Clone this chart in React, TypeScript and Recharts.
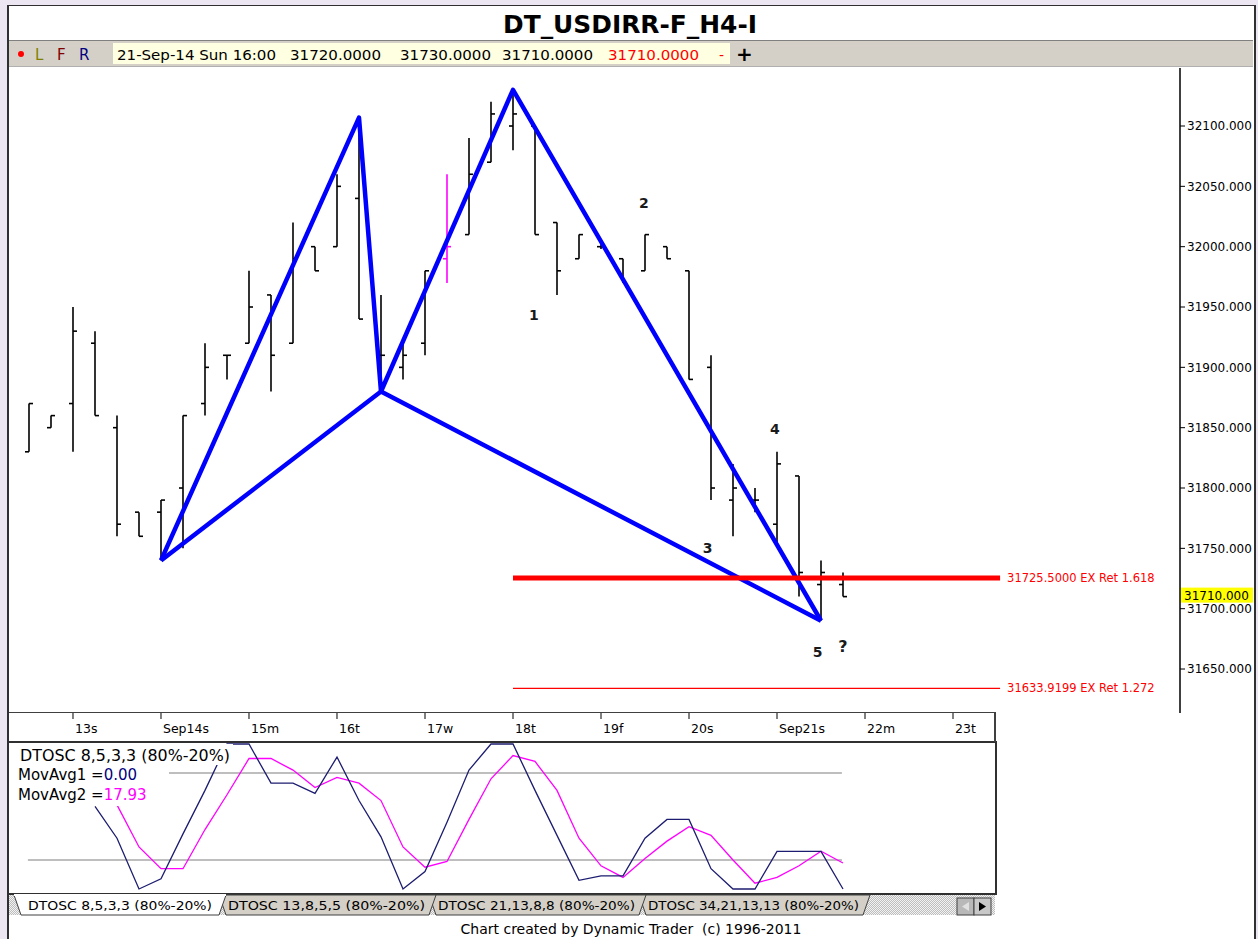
import React from 'react';
import { ComposedChart, Bar, Line, XAxis, YAxis, ReferenceLine, ReferenceDot } from 'recharts';

const FONT = "Tahoma, 'DejaVu Sans', Verdana, sans-serif";

// OHLC of the 4H bars (38 bars)
const opens = [31830, 31850, 31870, 31920, 31850, 31780, 31780, 31800, 31870, 31910, 31920, 31960, 31920, 32000, 32000, 32040, 31910, 31900, 31920, 31990, 32010, 32070, 32100, 32100, 32020, 31990, 32000, 31990, 31980, 32000, 31980, 31900, 31790, 31790, 31770, 31810, 31720, 31720];
const highs = [31870, 31860, 31950, 31930, 31860, 31780, 31790, 31860, 31920, 31910, 31980, 31960, 32020, 32000, 32060, 32105, 31960, 31920, 31980, 32060, 32090, 32120, 32130, 32100, 32020, 32010, 32002, 31990, 32010, 32000, 31980, 31910, 31820, 31800, 31830, 31810, 31740, 31730];
const lows = [31830, 31850, 31830, 31860, 31760, 31760, 31740, 31750, 31860, 31890, 31920, 31880, 31920, 31980, 32000, 31940, 31880, 31890, 31910, 31970, 32010, 32070, 32080, 32010, 31960, 31990, 31998, 31970, 31980, 31990, 31890, 31790, 31760, 31780, 31755, 31710, 31690, 31710];
const closes = [31870, 31860, 31930, 31860, 31770, 31760, 31790, 31860, 31900, 31910, 31950, 31910, 31990, 31980, 32050, 31940, 31910, 31910, 31980, 32000, 32060, 32110, 32110, 32010, 31980, 32010, 32000, 31970, 32010, 31990, 31890, 31800, 31800, 31790, 31820, 31730, 31730, 31710];
const highlightBar = 19;

// oscillator values per bar
const dtoscLine = [null, null, null, 57, 35, 0, 7, 38, 68, 100, 100, 73, 73, 66, 91, 61, 36, 0, 12, 46, 82, 100, 100, 68, 37, 6, 9, 9, 35, 48, 48, 14, 0, 0, 26, 26, 26, 0];
const movAvgLine = [null, null, null, null, 58, 29, 14, 14, 41, 65, 90, 90, 82, 70, 77, 73, 61, 29, 15, 19, 48, 76, 92, 88, 68, 35, 16, 8, 21, 33, 43, 37, 20, 4, 8, 16, 26, 17.93];
const oscLevels = [80, 20];

// axes
const dayTicks = [2, 6, 10, 14, 18, 22, 26, 30, 34, 38, 42];
const dayLabels = ['13s', 'Sep14s', '15m', '16t', '17w', '18t', '19f', '20s', 'Sep21s', '22m', '23t'];
const priceTicks = [31650, 31700, 31750, 31800, 31850, 31900, 31950, 32000, 32050, 32100];

// pattern pivots (bar index, price)
const patternZigzag = [
  { i: 6, v: 31740 },
  { i: 15, v: 32107 },
  { i: 16, v: 31880 },
  { i: 22, v: 32130 },
  { i: 36, v: 31690 },
];
const patternBase = [
  { i: 6, v: 31740 },
  { i: 16, v: 31880 },
  { i: 36, v: 31690 },
];

// extension targets
const targetPrices = [31725.5, 31633.9199];
const targetLabels = ['31725.5000 EX Ret 1.618', '31633.9199 EX Ret 1.272'];
const targetFrom = 22;
const targetTo = 44.14;

const lastPrice = 31710;

// wave count annotations (bar index, price)
const waveText = ['1', '2', '3', '4', '5', '?'];
const waveIdx = [22.95, 27.95, 30.85, 33.9, 35.85, 37.0];
const waveVal = [31943, 32036, 31750, 31849, 31664, 31668];

// header info
const infoDate = '21-Sep-14 Sun 16:00';
const infoOHLC = ['31720.0000', '31730.0000', '31710.0000', '31710.0000'];
const tabNames = ['DTOSC 8,5,3,3 (80%-20%)', 'DTOSC 13,8,5,5 (80%-20%)', 'DTOSC 21,13,8,8 (80%-20%)', 'DTOSC 34,21,13,13 (80%-20%)'];

const X_DOMAIN_PRICE: [number, number] = [-0.909, 52.318];
const X_DOMAIN_OSC: [number, number] = [-0.909, 43.818];

const OhlcShape = (props: any) => {
  const { x, y, width, height, payload } = props;
  if (x == null || y == null) return null;
  const cx = x + width / 2;
  const top = Math.min(y, y + height);
  const bot = Math.max(y, y + height);
  const h = bot - top;
  const range = payload.high - payload.low;
  const oy = range > 0 ? top + ((payload.high - payload.open) / range) * h : top;
  const cy = range > 0 ? top + ((payload.high - payload.close) / range) * h : top;
  const color = payload.hl ? '#ff00ff' : '#000000';
  return (
    <g stroke={color} strokeWidth={1.6} fill="none">
      <line x1={cx} x2={cx} y1={top} y2={Math.max(bot, top + 1)} />
      <line x1={cx - 4} x2={cx} y1={oy} y2={oy} />
      <line x1={cx} x2={cx + 4} y1={cy} y2={cy} />
    </g>
  );
};

const DayTick = (props: any) => {
  const { x, y, payload } = props;
  const k = dayTicks.indexOf(payload.value);
  return (
    <text x={x + 2} y={y + 12} fontSize={12.5} fontFamily={FONT} fill="#000">
      {k >= 0 ? dayLabels[k] : ''}
    </text>
  );
};

export default function App() {
  const priceData = opens.map((o, k) => ({
    i: k,
    open: o,
    high: highs[k],
    low: lows[k],
    close: closes[k],
    hl: k === highlightBar,
  }));
  const oscData = dtoscLine.map((d, k) => ({ i: k, dt: d, ma: movAvgLine[k] }));
  const levelData = oscLevels.map((lv) => [
    { i: -0.05, v: lv },
    { i: 36.95, v: lv },
  ]);
  const waves = waveText.map((t, k) => ({ t, i: waveIdx[k], v: waveVal[k] }));

  const tabX = [14, 219, 429, 639];
  const tabEnd = [226, 436, 646, 870];

  return (
    <div style={{ position: 'absolute', left: 0, top: 0, width: 1258, height: 939, background: '#ece5f2', overflow: 'hidden', fontFamily: FONT }}>
      <div style={{ position: 'absolute', left: 7, top: 5, width: 1245, height: 940, background: '#ffffff', borderLeft: '2px solid #303030', borderTop: '1px solid #303030', borderRight: '2px solid #303030' }} />

      {/* title + header bar */}
      <svg style={{ position: 'absolute', left: 0, top: 0 }} width={1258} height={70}>
        <text x={503} y={33} fontSize={25} fontWeight="bold" fontFamily={FONT} textLength={254} lengthAdjust="spacingAndGlyphs" fill="#000">DT_USDIRR-F_H4-I</text>
        <rect x={9} y={40} width={1244} height={26} fill="#d4d0c8" />
        <line x1={9} x2={1253} y1={40.5} y2={40.5} stroke="#808080" />
        <line x1={9} x2={1253} y1={66.5} y2={66.5} stroke="#b0b0b0" />
        <circle cx={21} cy={54} r={3} fill="#ff0000" />
        <text x={35} y={60} fontSize={15} fontFamily={FONT} fill="#808000">L</text>
        <text x={57} y={60} fontSize={15} fontFamily={FONT} fill="#800000">F</text>
        <text x={79} y={60} fontSize={15} fontFamily={FONT} fill="#000080">R</text>
        <rect x={113} y={43} width={617} height={21} fill="#ffffe1" />
        <text x={117} y={60} fontSize={14} fontFamily={FONT} textLength={159} lengthAdjust="spacingAndGlyphs" fill="#000">{infoDate}</text>
        {infoOHLC.map((s, k) => (
          <text key={k} x={[290, 400, 502, 608][k]} y={60} fontSize={14} fontFamily={FONT} textLength={91} lengthAdjust="spacingAndGlyphs" fill={k === 3 ? '#ff0000' : '#000'}>{s}</text>
        ))}
        <text x={719} y={60} fontSize={14} fontFamily={FONT} fill="#ff0000">-</text>
        <text x={736} y={61} fontSize={20} fontWeight="bold" fontFamily={FONT} fill="#000">+</text>
      </svg>

      {/* price panel */}
      <div style={{ position: 'absolute', left: 9, top: 68 }}>
        <ComposedChart width={1244} height={674} data={priceData} margin={{ top: 0, right: 0, bottom: 0, left: 0 }}>
          <XAxis dataKey="i" type="number" domain={X_DOMAIN_PRICE} allowDataOverflow ticks={dayTicks} interval={0} tick={<DayTick />} tickLine={{ stroke: '#000' }} tickSize={6} axisLine={false} height={29} />
          <YAxis orientation="right" type="number" domain={[31613.55, 32148.07]} allowDataOverflow ticks={priceTicks} interval={0} width={73} tickSize={5} tickLine={{ stroke: '#000' }} axisLine={{ stroke: '#000', strokeWidth: 1.5 }} tick={{ fill: '#000', fontSize: 12, fontFamily: FONT }} tickFormatter={(v: number) => v.toFixed(3)} />
          <Bar dataKey={(d: any) => [d.low, d.high]} barSize={4} shape={<OhlcShape />} isAnimationActive={false} />
          <Line data={patternZigzag} dataKey="v" type="linear" stroke="#0000ff" strokeWidth={4.5} dot={false} activeDot={false} isAnimationActive={false} strokeLinejoin="round" />
          <Line data={patternBase} dataKey="v" type="linear" stroke="#0000ff" strokeWidth={4.5} dot={false} activeDot={false} isAnimationActive={false} strokeLinejoin="round" />
          {targetPrices.map((p, k) => (
            <ReferenceLine
              key={k}
              segment={[{ x: targetFrom, y: p }, { x: targetTo, y: p }]}
              stroke="#ff0000"
              strokeWidth={k === 0 ? 5 : 1.2}
              label={(lp: any) => {
                const vb = lp.viewBox || {};
                return (
                  <text x={(vb.x || 0) + (vb.width || 0) + 7} y={(vb.y || 0) + 4} fontSize={11.5} fontFamily={FONT} fill="#ff0000">{targetLabels[k]}</text>
                );
              }}
            />
          ))}
          <ReferenceLine
            y={lastPrice}
            stroke="none"
            label={(lp: any) => {
              const vb = lp.viewBox || {};
              const x0 = (vb.x || 0) + (vb.width || 0) + 1;
              const y0 = vb.y || 0;
              return (
                <g>
                  <rect x={x0} y={y0 - 9} width={74} height={15} fill="#ffff00" />
                  <text x={x0 + 3} y={y0 + 3} fontSize={12} fontFamily={FONT} fill="#000">{lastPrice.toFixed(3)}</text>
                </g>
              );
            }}
          />
          {waves.map((w, k) => (
            <ReferenceDot
              key={k}
              x={w.i}
              y={w.v}
              r={0}
              shape={(sp: any) => (
                <text x={sp.cx} y={sp.cy + 5} textAnchor="middle" fontSize={w.t === '?' ? 16 : 14} fontWeight="bold" fontFamily={FONT} fill="#1a1a1a">{w.t}</text>
              )}
            />
          ))}
        </ComposedChart>
      </div>

      {/* frame around date strip and oscillator */}
      <div style={{ position: 'absolute', left: 9, top: 712, width: 985, height: 0, borderTop: '1px solid #404040' }} />
      <div style={{ position: 'absolute', left: 9, top: 741, width: 986, height: 150, borderTop: '2px solid #303030', borderBottom: '2px solid #303030', borderRight: '2px solid #303030' }} />
      <div style={{ position: 'absolute', left: 994, top: 712, width: 2, height: 30, background: '#404040' }} />

      {/* oscillator panel */}
      <div style={{ position: 'absolute', left: 9, top: 742 }}>
        <ComposedChart width={984} height={151} data={oscData} margin={{ top: 0, right: 0, bottom: 0, left: 0 }}>
          <XAxis dataKey="i" type="number" domain={X_DOMAIN_OSC} allowDataOverflow hide />
          <YAxis type="number" domain={[-2.76, 101.38]} allowDataOverflow hide />
          {levelData.map((ld, k) => (
            <Line key={k} data={ld} dataKey="v" stroke="#a8a8a8" strokeWidth={1.5} dot={false} activeDot={false} isAnimationActive={false} />
          ))}
          <Line dataKey="ma" stroke="#ff00ff" strokeWidth={1.3} dot={false} activeDot={false} isAnimationActive={false} />
          <Line dataKey="dt" stroke="#1c1c70" strokeWidth={1.3} dot={false} activeDot={false} isAnimationActive={false} />
        </ComposedChart>
      </div>

      {/* oscillator legend */}
      <svg style={{ position: 'absolute', left: 0, top: 740 }} width={260} height={70}>
        <rect x={11} y={4} width={222} height={21} fill="#fff" />
        <rect x={11} y={25} width={158} height={20} fill="#fff" />
        <rect x={11} y={45} width={150} height={21} fill="#fff" />
        <text x={20} y={21} fontSize={15} fontFamily={FONT} textLength={210} lengthAdjust="spacingAndGlyphs" fill="#000">DTOSC 8,5,3,3 (80%-20%)</text>
        <text x={18} y={40} fontSize={15} fontFamily={FONT} fill="#000">MovAvg1 =<tspan fill="#000080">0.00</tspan></text>
        <text x={18} y={60} fontSize={15} fontFamily={FONT} fill="#000">MovAvg2 =<tspan fill="#ff00ff">17.93</tspan></text>
      </svg>

      {/* tabs */}
      <svg style={{ position: 'absolute', left: 0, top: 893 }} width={1000} height={26}>
        <defs>
          <pattern id="hatch" width="2" height="2" patternUnits="userSpaceOnUse">
            <rect width="2" height="2" fill="#f2f2f2" />
            <rect width="1" height="1" fill="#bdbdbd" />
            <rect x="1" y="1" width="1" height="1" fill="#bdbdbd" />
          </pattern>
        </defs>
        <rect x={9} y={2} width={986} height={20} fill="url(#hatch)" />
        {[3, 2, 1].map((k) => (
          <g key={k}>
            <polygon points={`${tabX[k]},2 ${tabEnd[k]},2 ${tabEnd[k] - 7},22 ${tabX[k] + 7},22`} fill="#d4d0c8" stroke="#404040" strokeWidth={1} />
            <text x={tabX[k] + 9} y={17} fontSize={13} fontFamily={FONT} textLength={tabEnd[k] - tabX[k] - 20} lengthAdjust="spacingAndGlyphs" fill="#000">{tabNames[k]}</text>
          </g>
        ))}
        <polygon points={`${tabX[0]},2 ${tabEnd[0]},2 ${tabEnd[0] - 7},22 ${tabX[0] + 7},22`} fill="#ffffff" stroke="#404040" strokeWidth={1} />
        <line x1={tabX[0]} x2={tabEnd[0]} y1={2} y2={2} stroke="#ffffff" strokeWidth={2} />
        <text x={28} y={17} fontSize={13} fontFamily={FONT} textLength={184} lengthAdjust="spacingAndGlyphs" fill="#000">{tabNames[0]}</text>
        <rect x={957} y={5} width={17} height={17} fill="#b8b8b8" stroke="#404040" />
        <rect x={974} y={5} width={17} height={17} fill="#c8c8c8" stroke="#404040" />
        <polygon points="969,9 962,13.5 969,18" fill="#e0e0e0" />
        <polygon points="979,9 986,13.5 979,18" fill="#000" />
      </svg>

      <div style={{ position: 'absolute', left: 0, top: 919, width: 1262, textAlign: 'center', fontSize: 14, lineHeight: '20px', color: '#000', fontFamily: FONT, whiteSpace: 'pre' }}>
        {'Chart created by Dynamic Trader  (c) 1996-2011'}
      </div>
    </div>
  );
}
